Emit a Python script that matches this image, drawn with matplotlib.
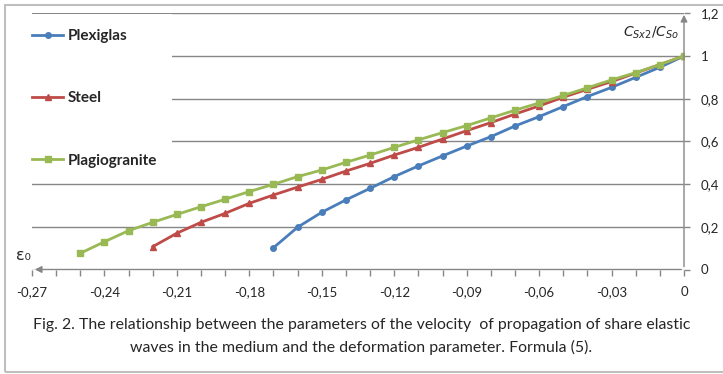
import numpy as np
import matplotlib
matplotlib.use('Agg')
import matplotlib.pyplot as plt
from matplotlib.ticker import FuncFormatter, MultipleLocator
from matplotlib.patches import Rectangle

plt.rcParams['font.family'] = ['Lato', 'DejaVu Sans']

# deformation parameter eps0, step 0.01
eps = [-0.25, -0.24, -0.23, -0.22, -0.21, -0.20, -0.19, -0.18, -0.17, -0.16,
       -0.15, -0.14, -0.13, -0.12, -0.11, -0.10, -0.09, -0.08, -0.07, -0.06,
       -0.05, -0.04, -0.03, -0.02, -0.01, 0.0]

plexiglas = [0.102, 0.198, 0.268, 0.326, 0.380, 0.435, 0.485, 0.532, 0.578,
             0.622, 0.672, 0.716, 0.763, 0.810, 0.853, 0.900, 0.947, 1.0]
steel = [0.107, 0.170, 0.221, 0.263, 0.310, 0.349, 0.386, 0.422, 0.461, 0.497,
         0.536, 0.572, 0.611, 0.650, 0.688, 0.728, 0.766, 0.807, 0.844, 0.880,
         0.920, 0.960, 1.0]
plagiogranite = [0.076, 0.130, 0.182, 0.221, 0.258, 0.294, 0.329, 0.365, 0.399,
                 0.435, 0.466, 0.502, 0.536, 0.572, 0.607, 0.641, 0.674, 0.710,
                 0.746, 0.780, 0.815, 0.851, 0.888, 0.922, 0.960, 1.0]

grey = '#868686'
txt = '#262626'

fig = plt.figure(figsize=(7.23, 3.74), dpi=100)
ax = fig.add_axes([32/723, 1-269.5/374, 652/723, 256.2/374])

ax.plot(eps[-len(plexiglas):], plexiglas, color='#4A7EBB', lw=2.0,
        marker='o', ms=4, label='Plexiglas', zorder=3)
ax.plot(eps[-len(steel):], steel, color='#BE4B48', lw=2.0,
        marker='^', ms=4.5, label='Steel', zorder=3)
ax.plot(eps[-len(plagiogranite):], plagiogranite, color='#98B954', lw=2.0,
        marker='s', ms=4, label='Plagiogranite', zorder=3)

ax.set_xlim(-0.27, 0)
ax.set_ylim(0, 1.2)
for s in ax.spines.values():
    s.set_visible(False)

ax.xaxis.set_major_locator(MultipleLocator(0.03))
ax.xaxis.set_minor_locator(MultipleLocator(0.01))
ax.yaxis.set_major_locator(MultipleLocator(0.2))
ax.xaxis.set_major_formatter(FuncFormatter(
    lambda v, p: '0' if abs(v) < 1e-9 else '{:.2f}'.format(v).replace('.', ',')))
ax.yaxis.set_major_formatter(FuncFormatter(
    lambda v, p: '{:g}'.format(round(v, 2)).replace('.', ',')))
ax.yaxis.tick_right()
ax.tick_params(axis='x', which='both', direction='out', length=4, width=1,
               color=grey, labelsize=9.5, labelcolor=txt, pad=8)
ax.tick_params(axis='y', direction='out', length=4, width=1, color=grey,
               labelsize=9.5, labelcolor=txt, pad=8)
ax.grid(axis='y', color=grey, lw=1)
ax.set_axisbelow(True)

# axes with arrows
ax.annotate('', xy=(0, 0), xytext=(1, 0), xycoords='axes fraction',
            arrowprops=dict(arrowstyle='-|>', color=grey, lw=1, mutation_scale=10))
ax.annotate('', xy=(1, 1.005), xytext=(1, 0), xycoords='axes fraction',
            arrowprops=dict(arrowstyle='-|>', color=grey, lw=1, mutation_scale=10))

ax.text(-0.024, 0.025, '\u03b5\u2080', transform=ax.transAxes, fontsize=11.5,
        color=txt, ha='left', va='bottom', family=['DejaVu Sans'])
ax.text(0.992, 0.925, r'$C_{Sx2}/C_{So}$', transform=ax.transAxes,
        fontsize=10, color=txt, ha='right', va='center')

leg = ax.legend(loc='upper left', bbox_to_anchor=(17/723, 1-14/374),
                bbox_transform=fig.transFigure, frameon=True,
                prop={'size': 11, 'weight': 'bold'},
                labelspacing=3.15, handlelength=2.0, handletextpad=0.3,
                borderpad=1.0, borderaxespad=0, fancybox=False)
leg.get_frame().set_facecolor('white')
leg.get_frame().set_edgecolor('none')
leg.get_frame().set_alpha(1)
for t in leg.get_texts():
    t.set_color(txt)

fig.text(0.5, 1-325/374, 'Fig. 2. The relationship between the parameters of the velocity  '
         'of propagation of share elastic', ha='center', va='center',
         fontsize=11.4, color=txt)
fig.text(0.5, 1-347/374, 'waves in the medium and the deformation parameter. Formula (5).',
         ha='center', va='center', fontsize=11.4, color=txt)

fig.patches.append(Rectangle((5/723, 2/374), 1.0, 367/374, transform=fig.transFigure,
                             fill=False, edgecolor='#BFBFBF', lw=1.5))

fig.savefig('out.png', dpi=100)
